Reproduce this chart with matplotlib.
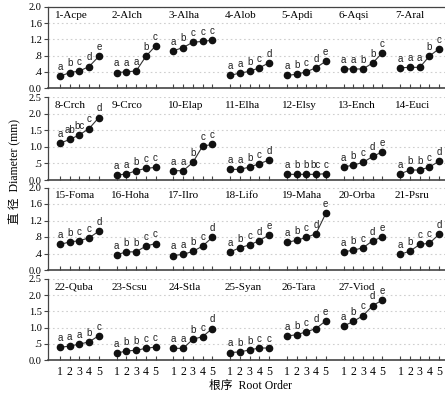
import matplotlib
matplotlib.use("Agg")
import matplotlib.pyplot as plt

plt.rcParams['font.family'] = ['Liberation Serif', 'Noto Sans CJK SC', 'DejaVu Sans']

species = ["1-Acpe", "2-Alch", "3-Alha", "4-Alob", "5-Apdi", "6-Aqsi", "7-Aral",
           "8-Crch", "9-Crco", "10-Elap", "11-Elha", "12-Elsy", "13-Ench", "14-Euci",
           "15-Foma", "16-Hoha", "17-Ilro", "18-Lifo", "19-Maha", "20-Orba", "21-Psru",
           "22-Quba", "23-Scsu", "24-Stla", "25-Syan", "26-Tara", "27-Viod"]

root_orders = [1, 2, 3, 4, 5]

diameter = [
    [0.29, 0.38, 0.42, 0.53, 0.78],
    [0.38, 0.40, 0.42, 0.78, 1.04],
    [0.92, 1.00, 1.13, 1.15, 1.18],
    [0.31, 0.37, 0.41, 0.50, 0.62],
    [0.31, 0.34, 0.40, 0.50, 0.66],
    [0.47, 0.47, 0.47, 0.62, 0.87],
    [0.50, 0.51, 0.51, 0.79, 0.97],
    [1.11, 1.22, 1.36, 1.55, 1.88],
    [0.15, 0.18, 0.28, 0.35, 0.38],
    [0.28, 0.28, 0.53, 1.02, 1.07],
    [0.32, 0.32, 0.39, 0.49, 0.60],
    [0.17, 0.17, 0.17, 0.17, 0.19],
    [0.39, 0.45, 0.53, 0.71, 0.85],
    [0.19, 0.30, 0.30, 0.39, 0.57],
    [0.62, 0.68, 0.71, 0.78, 0.94],
    [0.37, 0.44, 0.44, 0.58, 0.64],
    [0.35, 0.38, 0.45, 0.58, 0.79],
    [0.44, 0.54, 0.61, 0.71, 0.85],
    [0.67, 0.72, 0.79, 0.88, 1.37],
    [0.44, 0.48, 0.54, 0.71, 0.80],
    [0.38, 0.46, 0.62, 0.65, 0.87],
    [0.39, 0.43, 0.49, 0.56, 0.75],
    [0.21, 0.28, 0.30, 0.36, 0.40],
    [0.36, 0.36, 0.64, 0.72, 0.97],
    [0.23, 0.25, 0.31, 0.37, 0.37],
    [0.74, 0.78, 0.87, 0.97, 1.21],
    [1.05, 1.19, 1.37, 1.68, 1.85],
]

letters = [
    ["a", "b", "c", "d", "e"], ["a", "a", "a", "b", "c"], ["a", "b", "c", "c", "c"],
    ["a", "a", "b", "c", "d"], ["a", "b", "c", "d", "e"], ["a", "a", "b", "b", "c"],
    ["a", "a", "a", "b", "c"],
    ["a", "ab", "bc", "c", "d"], ["a", "a", "b", "c", "c"], ["a", "a", "b", "c", "c"],
    ["a", "a", "b", "c", "d"], ["a", "b", "b", "bc", "c"], ["a", "b", "c", "d", "e"],
    ["a", "b", "b", "c", "d"],
    ["a", "b", "c", "c", "d"], ["a", "b", "b", "c", "c"], ["a", "a", "b", "c", "d"],
    ["a", "b", "c", "d", "e"], ["a", "b", "c", "d", "e"], ["a", "b", "c", "d", "e"],
    ["a", "b", "c", "c", "d"],
    ["a", "a", "a", "b", "c"], ["a", "b", "b", "c", "c"], ["a", "a", "b", "c", "d"],
    ["a", "b", "b", "c", "c"], ["a", "b", "c", "d", "e"], ["a", "b", "c", "d", "e"],
]

row_yticks = [
    [0.0, 0.4, 0.8, 1.2, 1.6, 2.0],
    [0.0, 0.5, 1.0, 1.5, 2.0, 2.5],
    [0.0, 0.4, 0.8, 1.2, 1.6, 2.0],
    [0.0, 0.5, 1.0, 1.5, 2.0, 2.5],
]
row_yticklabels = [
    ["0.0", ".4", ".8", "1.2", "1.6", "2.0"],
    ["0.0", ".5", "1.0", "1.5", "2.0", "2.5"],
    ["0.0", ".4", ".8", "1.2", "1.6", "2.0"],
    ["0.0", ".5", "1.0", "1.5", "2.0", "2.5"],
]

W, H = 445, 396
fig = plt.figure(figsize=(W / 100, H / 100), dpi=100)

# axes boxes in pixels: (top, bottom)
rows_px = [(7, 88), (97, 180), (187.5, 270), (279, 360)]
left_px, right_px = 48, 445
GSTEP = 5.85
n_groups = 7
spine_col = '#444444'

for r in range(4):
    top, bot = rows_px[r]
    ax = fig.add_axes([left_px / W, 1 - bot / H, (right_px - left_px) / W, (bot - top) / H])
    yt = row_yticks[r]
    ax.set_ylim(yt[0], yt[-1])
    ax.set_xlim(-1.24, 39.7)
    ax.set_yticks(yt)
    ax.set_yticklabels(row_yticklabels[r])
    ax.spines['right'].set_visible(False)
    ax.spines['top'].set_visible(r == 0)
    for s in ['left', 'bottom', 'top']:
        ax.spines[s].set_color(spine_col)
        ax.spines[s].set_linewidth(0.9)
    ax.spines['bottom'].set_linewidth(1.2)
    for v in yt[1:]:
        ax.axhline(v, color='#cfcfcf', lw=0.8, ls=(0, (1.5, 2.5)), zorder=0)
    xt = []
    xtl = []
    for g in range(n_groups):
        for o in root_orders:
            xt.append(g * GSTEP + (o - 1))
            xtl.append(str(o))
    ax.set_xticks(xt)
    if r == 3:
        ax.set_xticklabels(xtl, fontsize=8.5)
    else:
        ax.set_xticklabels([])
    ax.tick_params(axis='x', direction='in', length=3, width=0.8, color=spine_col, pad=4)
    ax.tick_params(axis='y', direction='out', length=3, width=0.8, color=spine_col,
                   labelsize=7.5, pad=1.5)
    for g in range(n_groups):
        k = r * 7 + g
        if k >= len(species):
            continue
        xs = [g * GSTEP + (o - 1) for o in root_orders]
        ys = diameter[k]
        ax.plot(xs, ys, color='#333333', lw=0.8, marker='o', ms=4.5,
                mfc='#111111', mec='#111111', zorder=3)
        ax.text(g * GSTEP - 0.55, 0.9, species[k], transform=ax.get_xaxis_transform(),
                ha='left', va='center', fontsize=8)
        for x, y, lt in zip(xs, ys, letters[k]):
            ax.annotate(lt, (x, y), xytext=(0, 3), textcoords='offset points',
                        ha='center', va='bottom', fontsize=7,
                        family=['Liberation Sans', 'DejaVu Sans'], color='#222222')

fig.text(15 / W, 1 - 172 / H, "直 径  Diameter (mm)", rotation=90, ha='center',
         va='center', fontsize=8.5)
fig.text(250 / W, 1 - 386 / H, "根序  Root Order", ha='center', va='center', fontsize=8.5)

fig.savefig("out.png", dpi=100)
